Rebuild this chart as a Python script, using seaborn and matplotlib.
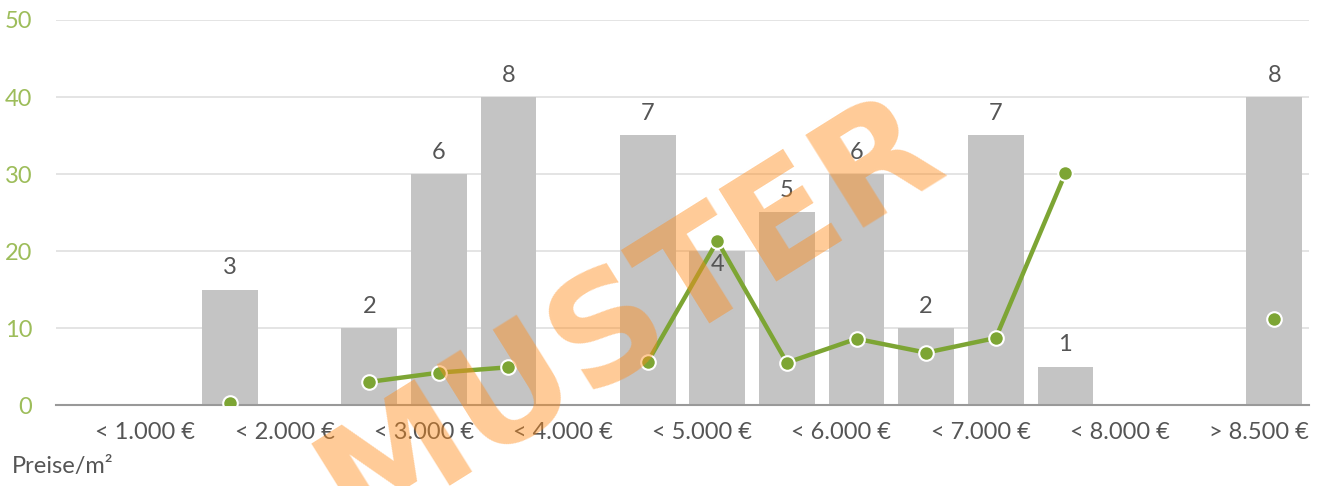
import numpy as np
import pandas as pd
import matplotlib
matplotlib.use("Agg")
import matplotlib.pyplot as plt
import seaborn as sns

# --------------------------
# Data
# --------------------------
price_labels = ["< 1.000 €", "< 2.000 €", "< 3.000 €", "< 4.000 €", "< 5.000 €",
                "< 6.000 €", "< 7.000 €", "< 8.000 €", "> 8.500 €"]
counts = [0, 0, 3, 0, 2, 6, 8, 0, 7, 4, 5, 6, 2, 7, 1, 0, 0, 8]
bar_values = [0, 0, 15, 0, 10, 30, 40, 0, 35, 20, 25, 30, 10, 35, 5, 0, 0, 40]
nan = np.nan
line_values = [nan, nan, 0.3, nan, 3.0, 4.2, 4.9, nan, 5.6, 21.3, 5.5, 8.6,
               6.8, 8.7, 30.1, nan, nan, 11.2]

df = pd.DataFrame({"pos": range(len(bar_values)), "bar": bar_values,
                   "line": line_values, "count": counts})

# --------------------------
# Style
# --------------------------
sns.set_style("white")
plt.rcParams["font.family"] = ["Lato", "DejaVu Sans"]

bar_color = "#c4c4c4"
green = "#7da534"
text_gray = "#555555"
fs = 17

fig = plt.figure(figsize=(13.32, 4.86), dpi=100)
ax = fig.add_axes([56 / 1332, 1 - 405 / 486, (1309 - 56) / 1332, (405 - 20) / 486])

# --------------------------
# Bars + line
# --------------------------
sns.barplot(data=df, x="pos", y="bar", order=list(df["pos"]), color=bar_color,
            saturation=1, width=0.8, linewidth=0, ax=ax, zorder=2)
ax.plot(df["pos"], df["line"], color=green, lw=3.2, marker="o", ms=10.5,
        mfc=green, mec="white", mew=1.5, zorder=4)

# value labels above the bars (inside when the line point sits there)
for i, row in df.iterrows():
    if row["count"] <= 0:
        continue
    y = row["bar"] + 2.8
    lv = row["line"]
    if not np.isnan(lv) and row["bar"] <= lv <= row["bar"] + 6:
        y = row["bar"] - 1.8
    ax.text(i, y, str(int(row["count"])), ha="center", va="center",
            fontsize=fs, color=text_gray, zorder=5)

# --------------------------
# Axes
# --------------------------
ax.set_xlim(-0.5, len(bar_values) - 0.5)
ax.set_ylim(0, 50)
ax.set_yticks([0, 10, 20, 30, 40, 50])
ax.yaxis.grid(True, color="#e2e2e2", lw=1.3)
ax.set_axisbelow(True)
ax.tick_params(axis="y", length=0, pad=17, labelsize=fs, labelcolor="#9dbd5a")

ax.set_xticks(np.arange(1.5, len(bar_values), 2))
ax.set_xticklabels(price_labels, ha="right")
ax.set_xticks(np.arange(-0.5, len(bar_values), 1), minor=True)
ax.tick_params(axis="x", which="both", length=5, color="#999999", width=1.2,
               direction="out")
ax.tick_params(axis="x", which="major", pad=7, labelsize=fs, labelcolor=text_gray)
ax.set_xlabel("")
ax.set_ylabel("")

for side in ["top", "right", "left"]:
    ax.spines[side].set_visible(False)
ax.spines["bottom"].set_color("#999999")
ax.spines["bottom"].set_linewidth(1.5)

fig.text(12 / 1332, 1 - 466 / 486, "Preise/m²", ha="left", va="center",
         fontsize=fs, color=text_gray)

# watermark
fig.text(630 / 1332, 1 - 316 / 486, "MUSTER", rotation=32, rotation_mode="anchor",
         ha="center", va="center", fontsize=108, fontweight="bold",
         color="#ff8c1a", alpha=0.45, zorder=10, family=["DejaVu Sans"])

plt.savefig("out.png", dpi=100)
plt.close()
